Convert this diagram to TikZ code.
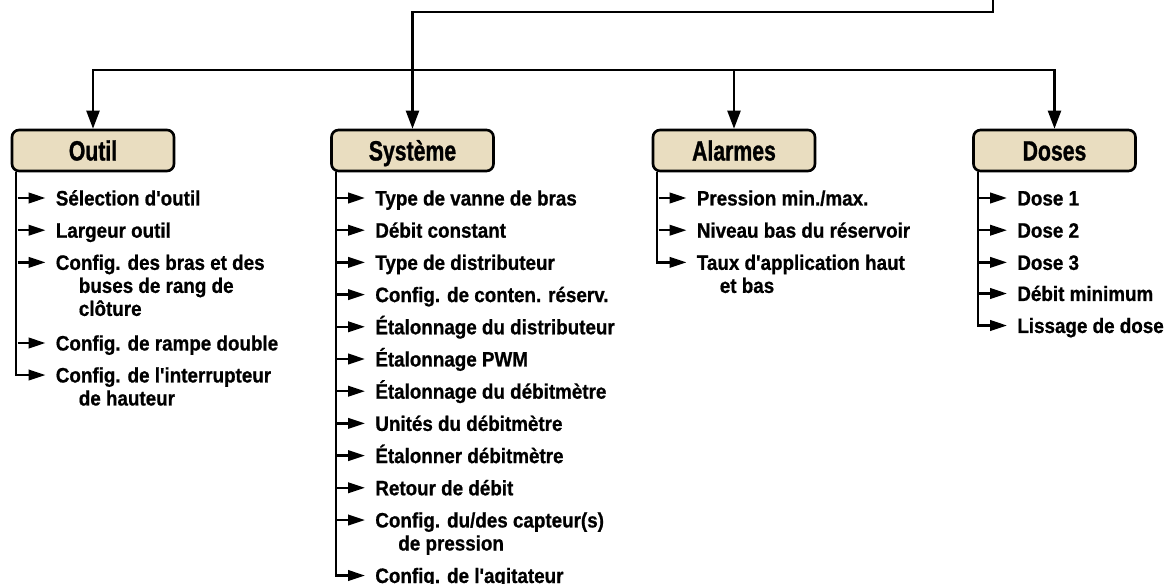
\documentclass[tikz,border=0pt]{standalone}
\usepackage{fontspec}
\setmainfont{Liberation Sans}
\newfontfamily\itemfont{Liberation Sans}[FakeStretch=0.9, FakeBold=0.8]
\newfontfamily\headfont{Liberation Sans}[FakeStretch=0.76, FakeBold=1]
\usetikzlibrary{arrows.meta}
\definecolor{boxbeige}{HTML}{E9DDC0}
\newcommand{\indentline}{\\\hspace*{0.46cm}}

\begin{document}
\begin{tikzpicture}[
	x=0.02cm, y=-0.02cm,
	link/.style={line width=1.3pt},
	headarrow/.style={link, -{Triangle[length=0.36cm,width=0.26cm]}},
	itemarrow/.style={link, -{Triangle[length=0.34cm,width=0.21cm]}},
	menubox/.style={draw, line width=1.5pt, rounded corners=0.14cm, fill=boxbeige, minimum width=3.24cm, minimum height=0.82cm, inner sep=0pt, text height=11.4pt, text depth=0pt, font=\headfont\bfseries\fontsize{15.9}{18}\selectfont},
	entry/.style={anchor=base west, align=left, inner xsep=0.2cm, inner ysep=0pt, font=\itemfont\bfseries\fontsize{11.9}{13.1}\selectfont},
]
\useasboundingbox (0,0) rectangle (1167,584);

% menu boxes
\node[menubox] (outil) at (93,150.5) {Outil};
\node[menubox] (systeme) at (412.5,150.5) {Système};
\node[menubox] (alarmes) at (734,150.5) {Alarmes};
\node[menubox] (doses) at (1054.5,150.5) {Doses};

% lines from above
\coordinate (top) at (993,-5);
\coordinate (turn) at (993,12);
\coordinate (bus) at (413,70);
\draw[headarrow] (top) -- (turn) -| (systeme.north);
\draw[headarrow] (bus) -| (outil.north);
\draw[headarrow] (bus) -| (alarmes.north);
\draw[headarrow] (bus) -| (doses.north);

% Outil (multi-line entries sit on their last line)
\node[entry] (o1) at (45.5,205.5) {Sélection d'outil};
\node[entry] (o2) at (45.5,237.7) {Largeur outil};
\node[entry] (o3) at (45.5,315.9) {Config. des bras et des\indentline buses de rang de\indentline clôture};
\node[entry] (o4) at (45.5,350.5) {Config. de rampe double};
\node[entry] (o5) at (45.5,405.5) {Config. de l'interrupteur\indentline de hauteur};
\draw[itemarrow] ([xshift=0.11cm]outil.south west) |- ([yshift=0.61cm]o5.base west);
\foreach \n/\k in {o1/0,o2/0,o3/2,o4/0}
	\draw[itemarrow] ([shift={(-0.56cm,0.15cm+\k*0.46cm)}]\n.base west) -- ([yshift=0.15cm+\k*0.46cm]\n.base west);

% Systeme
\node[entry] (s1) at (365,205.5) {Type de vanne de bras};
\node[entry] (s2) at (365,237.7) {Débit constant};
\node[entry] (s3) at (365,269.9) {Type de distributeur};
\node[entry] (s4) at (365,302.1) {Config. de conten. réserv.};
\node[entry] (s5) at (365,334.3) {Étalonnage du distributeur};
\node[entry] (s6) at (365,366.5) {Étalonnage PWM};
\node[entry] (s7) at (365,398.7) {Étalonnage du débitmètre};
\node[entry] (s8) at (365,430.9) {Unités du débitmètre};
\node[entry] (s9) at (365,463.1) {Étalonner débitmètre};
\node[entry] (s10) at (365,495.3) {Retour de débit};
\node[entry] (s11) at (365,550.5) {Config. du/des capteur(s)\indentline de pression};
\node[entry] (s12) at (365,583) {Config. de l'agitateur};
\draw[itemarrow] ([xshift=0.11cm]systeme.south west) |- ([yshift=0.15cm]s12.base west);
\foreach \n/\k in {s1/0,s2/0,s3/0,s4/0,s5/0,s6/0,s7/0,s8/0,s9/0,s10/0,s11/1}
	\draw[itemarrow] ([shift={(-0.56cm,0.15cm+\k*0.46cm)}]\n.base west) -- ([yshift=0.15cm+\k*0.46cm]\n.base west);

% Alarmes
\node[entry] (a1) at (686.5,205.5) {Pression min./max.};
\node[entry] (a2) at (686.5,237.7) {Niveau bas du réservoir};
\node[entry] (a3) at (686.5,292.9) {Taux d'application haut\indentline et bas};
\draw[itemarrow] ([xshift=0.11cm]alarmes.south west) |- ([yshift=0.61cm]a3.base west);
\foreach \n in {a1,a2}
	\draw[itemarrow] ([shift={(-0.56cm,0.15cm)}]\n.base west) -- ([yshift=0.15cm]\n.base west);

% Doses
\node[entry] (d1) at (1007,205.5) {Dose 1};
\node[entry] (d2) at (1007,237.7) {Dose 2};
\node[entry] (d3) at (1007,269.9) {Dose 3};
\node[entry] (d4) at (1007,301) {Débit minimum};
\node[entry] (d5) at (1007,333) {Lissage de dose};
\draw[itemarrow] ([xshift=0.11cm]doses.south west) |- ([yshift=0.15cm]d5.base west);
\foreach \n in {d1,d2,d3,d4}
	\draw[itemarrow] ([shift={(-0.56cm,0.15cm)}]\n.base west) -- ([yshift=0.15cm]\n.base west);
\end{tikzpicture}
\end{document}
